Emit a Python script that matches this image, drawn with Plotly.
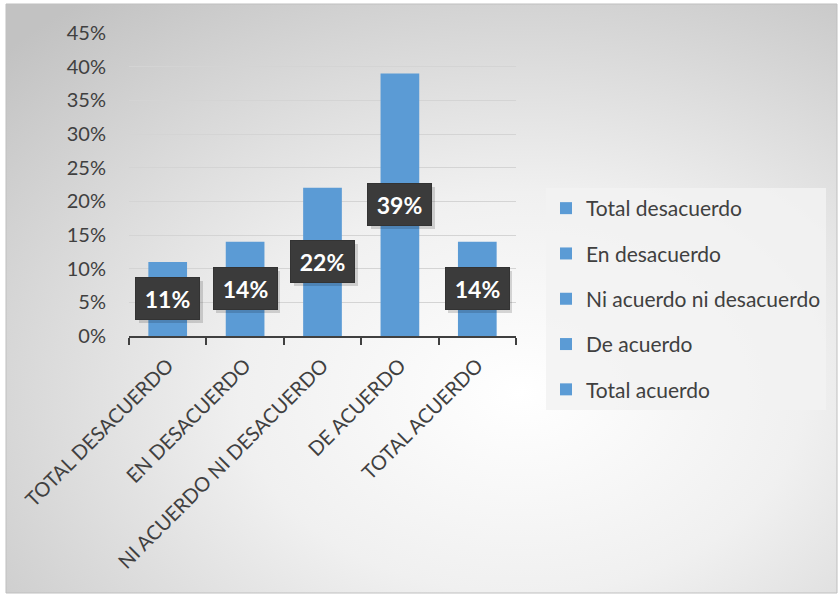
import base64
import plotly.graph_objects as go

# Survey results
categories = ["TOTAL DESACUERDO", "EN DESACUERDO", "NI ACUERDO NI DESACUERDO",
              "DE ACUERDO", "TOTAL ACUERDO"]
legend_names = ["Total desacuerdo", "En desacuerdo", "Ni acuerdo ni desacuerdo",
                "De acuerdo", "Total acuerdo"]
values = [0.11, 0.14, 0.22, 0.39, 0.14]
y_ticks = [0, 0.05, 0.10, 0.15, 0.20, 0.25, 0.30, 0.35, 0.40, 0.45]

W, H = 838, 594
L, R, T, B = 129, 516, 33, 336          # plot area in pixels


def px(x):
    return (x - L) / (R - L)


def py(y):
    return (B - y) / (B - T)


BAR = "#5b9bd5"
TXT = "#404040"
FONT = "Lato, 'Open Sans', sans-serif"

fig = go.Figure()
for cat, name, v in zip(categories, legend_names, values):
    fig.add_trace(go.Bar(
        x=[cat], y=[v], name=name, width=0.5,
        marker=dict(color=BAR, line=dict(width=0)),
        legendgroup=name, hoverinfo="skip",
    ))

# value labels in dark boxes at the middle of each bar (with a soft shadow)
for cat, v in zip(categories, values):
    fig.add_annotation(
        x=cat, y=v / 2, xref="x", yref="y", text=" ", showarrow=False,
        bgcolor="rgba(0,0,0,0.15)", borderwidth=0,
        width=62, height=40, xshift=3, yshift=-3,
    )
    fig.add_annotation(
        x=cat, y=v / 2, xref="x", yref="y",
        text=f"<b>{round(v * 100)}%</b>", showarrow=False,
        font=dict(family=FONT, size=23, color="white"),
        bgcolor="#3b3b3b", bordercolor="#333333", borderwidth=1,
        width=61, height=39, align="center", valign="middle",
    )

# radial background of the chart area
svg = (
    "<svg xmlns='http://www.w3.org/2000/svg' width='831' height='589' "
    "preserveAspectRatio='none'><defs><radialGradient id='g' cx='0.62' cy='0.66' r='0.85'>"
    "<stop offset='0' stop-color='#ffffff'/>"
    "<stop offset='0.4' stop-color='#f0f0f0'/>"
    "<stop offset='1' stop-color='#c2c2c2'/>"
    "</radialGradient></defs><rect width='100%' height='100%' fill='url(#g)'/></svg>"
)
src = "data:image/svg+xml;base64," + base64.b64encode(svg.encode()).decode()
x0, x1, y0, y1 = 6, 837, 4, 593
fig.add_layout_image(
    source=src, xref="paper", yref="paper",
    x=px(x0), y=py(y0), sizex=px(x1) - px(x0), sizey=py(y0) - py(y1),
    xanchor="left", yanchor="top", sizing="stretch", layer="below",
)
fig.add_shape(type="rect", xref="paper", yref="paper",
              x0=px(x0), x1=px(x1), y0=py(y1), y1=py(y0),
              line=dict(color="#bfbfbf", width=1), layer="above")

fig.update_layout(
    width=W, height=H, autosize=False,
    margin=dict(l=L, r=W - R, t=T, b=H - B, pad=0),
    paper_bgcolor="white", plot_bgcolor="rgba(0,0,0,0)",
    barmode="overlay", showlegend=True,
    font=dict(family=FONT, color=TXT),
    legend=dict(
        x=px(546), y=py(188), xanchor="left", yanchor="top",
        bgcolor="rgba(242,242,242,0.85)", borderwidth=0,
        font=dict(family=FONT, size=21, color=TXT),
        tracegroupgap=15, traceorder="grouped",
    ),
    xaxis=dict(
        type="category", categoryorder="array", categoryarray=categories,
        showgrid=False, showline=True, linecolor="#404040", linewidth=2,
        ticks="outside", tickson="boundaries", ticklen=7, tickwidth=2,
        tickcolor="#404040", tickangle=-45,
        tickfont=dict(family=FONT, size=20, color=TXT),
        ticklabelstandoff=8,
        zeroline=False, fixedrange=True,
    ),
    yaxis=dict(
        range=[0, 0.45], tickvals=y_ticks, tickformat=".0%",
        showgrid=True, gridcolor="#d4d4d4", gridwidth=1,
        showline=False, zeroline=False, ticks="",
        tickfont=dict(family=FONT, size=20, color=TXT),
        ticklabelstandoff=22, fixedrange=True,
    ),
)

fig.write_html("out.html")
